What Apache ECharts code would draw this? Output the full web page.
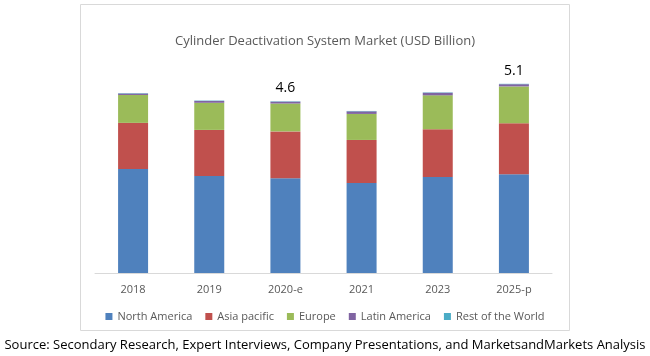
<!DOCTYPE html>
<html><head><meta charset="utf-8">
<script src="https://cdn.jsdelivr.net/npm/echarts@6/dist/echarts.min.js"></script>
<style>html,body{margin:0;padding:0;background:#fff}#c{width:650px;height:356px}</style>
</head><body><div id="c"></div>
<script>
var categories = ['2018', '2019', '2020-e', '2021', '2023', '2025-p'];
var northAmerica = [2.80, 2.61, 2.55, 2.42, 2.58, 2.66];
var asiaPacific = [1.24, 1.24, 1.26, 1.16, 1.29, 1.37];
var europe = [0.75, 0.73, 0.75, 0.70, 0.91, 0.99];
var latinAmerica = [0.04, 0.05, 0.05, 0.07, 0.07, 0.06];
var restOfWorld = [0.01, 0.01, 0.01, 0.01, 0.01, 0.01];
var totalLabels = ['', '', '4.6', '', '', '5.1'];

var chart = echarts.init(document.getElementById('c'));
var font = '"Open Sans", "Noto Sans", sans-serif';
function s(name, data, color, withLabel) {
  var o = { name: name, type: 'bar', stack: 't', data: data, barWidth: 30,
    itemStyle: { color: color }, emphasis: { disabled: true } };
  if (withLabel) {
    o.label = { show: true, position: 'top', distance: 6, color: '#000', fontSize: 14,
      fontFamily: font, formatter: function (p) { return totalLabels[p.dataIndex]; } };
  }
  return o;
}
chart.setOption({
  animation: false,
  title: { text: 'Cylinder Deactivation System Market (USD Billion)', left: 'center', top: 30,
    textStyle: { fontSize: 13, fontWeight: 'normal', color: '#595959', fontFamily: font } },
  grid: { left: 95, right: 98, top: 50, height: 223 },
  xAxis: { type: 'category', data: categories,
    axisLine: { lineStyle: { color: '#d9d9d9' } }, axisTick: { show: false },
    axisLabel: { color: '#595959', fontSize: 11, fontFamily: font, margin: 11 } },
  yAxis: { type: 'value', min: 0, max: 6, show: false, splitLine: { show: false } },
  legend: { bottom: 29, left: 'center', itemWidth: 7, itemHeight: 7, itemGap: 13,
    icon: 'rect', textStyle: { color: '#595959', fontSize: 11, fontFamily: font } },
  graphic: [
    { type: 'rect', shape: { x: 80.5, y: 4.5, width: 489, height: 326 },
      style: { fill: 'none', stroke: '#d9d9d9', lineWidth: 1 }, z: -1 },
    { type: 'text', left: 'center', top: 339,
      style: { text: 'Source: Secondary Research, Expert Interviews, Company Presentations, and MarketsandMarkets Analysis',
        fill: '#000', fontSize: 13, fontFamily: font } }
  ],
  series: [
    s('North America', northAmerica, '#4F81BD'),
    s('Asia pacific', asiaPacific, '#C0504D'),
    s('Europe', europe, '#9BBB59'),
    s('Latin America', latinAmerica, '#8064A2'),
    s('Rest of the World', restOfWorld, '#4BACC6', true)
  ]
});
</script></body></html>
